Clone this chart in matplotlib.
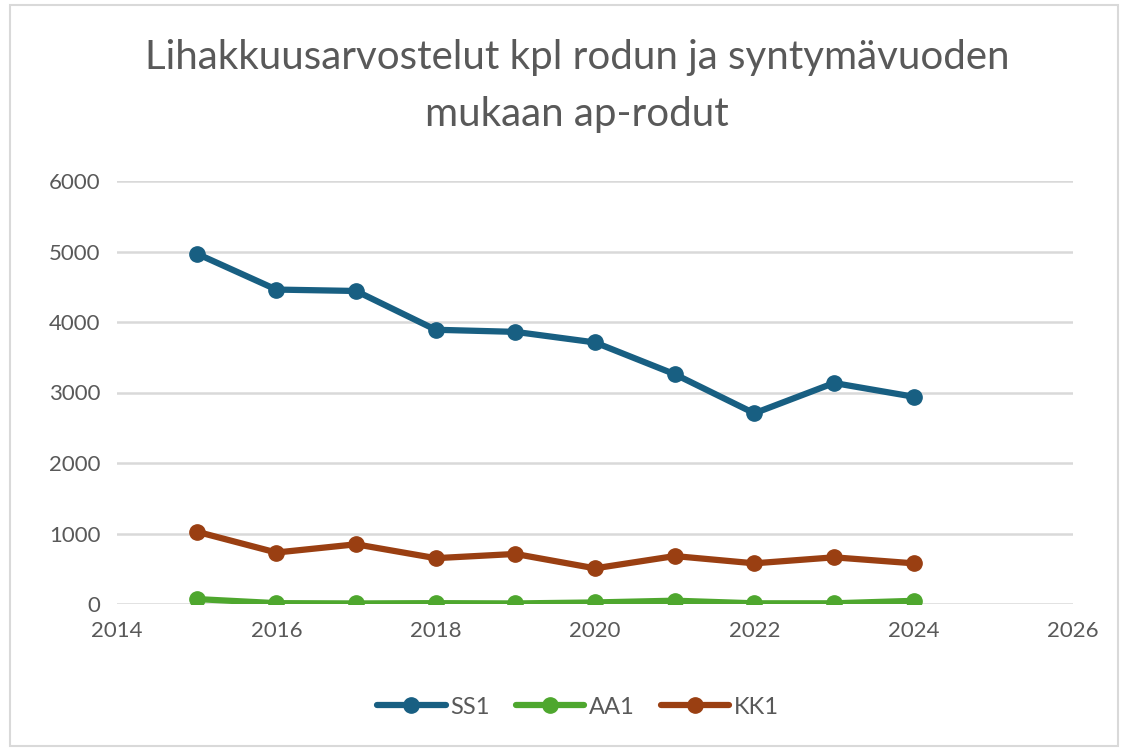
import matplotlib.pyplot as plt
from matplotlib.patches import Rectangle

plt.rcParams['font.family'] = ['Lato', 'DejaVu Sans']

years = [2015, 2016, 2017, 2018, 2019, 2020, 2021, 2022, 2023, 2024]
ss1 = [4970, 4460, 4440, 3890, 3860, 3710, 3260, 2705, 3135, 2940]
aa1 = [70, 12, 8, 12, 8, 22, 47, 10, 10, 45]
kk1 = [1026, 730, 847, 650, 710, 506, 680, 577, 662, 577]

series = [('SS1', ss1, '#185F82'), ('AA1', aa1, '#4EA72E'), ('KK1', kk1, '#9A3F12')]

fig = plt.figure(figsize=(11.27, 7.5), dpi=100)
fig.patches.append(Rectangle((10 / 1127, 4 / 750), 1108 / 1127, 741 / 750,
                             transform=fig.transFigure, fill=False,
                             edgecolor='#d9d9d9', linewidth=1.5))

ax = fig.add_axes([117 / 1127, 1 - 604 / 750, (1073 - 117) / 1127, (604 - 181) / 750])

for name, vals, col in series:
    ax.plot(years, vals, color=col, linewidth=4.5, marker='o', markersize=11,
            label=name, solid_capstyle='round', zorder=3)

ax.set_xlim(2014, 2026)
ax.set_ylim(0, 6000)
ax.set_xticks(range(2014, 2027, 2))
ax.set_yticks(range(0, 6001, 1000))
ax.grid(axis='y', color='#d9d9d9', linewidth=1.8)
ax.set_axisbelow(True)
for s in ax.spines.values():
    s.set_visible(False)
ax.tick_params(length=0, labelsize=16, labelcolor='#595959', pad=12)

fig.text(0.512, 1 - 86 / 750, 'Lihakkuusarvostelut kpl rodun ja syntymävuoden\nmukaan ap-rodut',
         ha='center', va='center', fontsize=29, color='#595959', linespacing=1.65)

fig.legend(loc='center', bbox_to_anchor=(0.513, 1 - 707 / 750), ncol=3, frameon=False,
           fontsize=17, labelcolor='#595959', handlelength=2.9, handletextpad=0.2,
           columnspacing=1.1)

fig.savefig('out.png', dpi=100)
